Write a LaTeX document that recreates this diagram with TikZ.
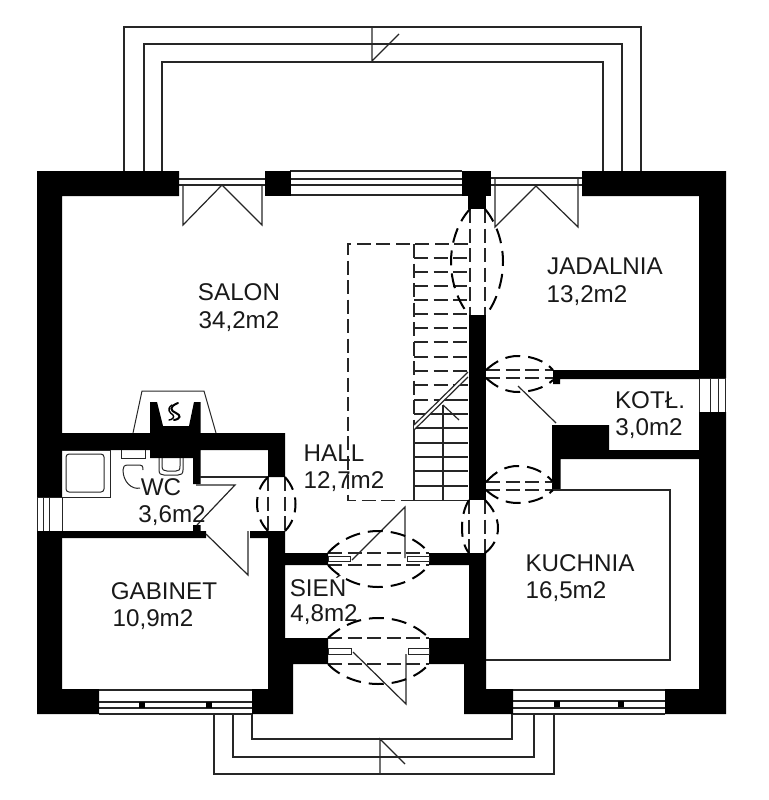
\documentclass[tikz,border=0pt]{standalone}
\usepackage{fontspec}
\setmainfont{Liberation Sans}
\tikzset{
  plan/.style={x=1pt,y=-1pt,line join=miter},
  wall/.style={fill=black,draw=none},
  thin line/.style={draw=black!85,line width=1.2pt},
  hidden/.style={draw=black!85,line width=1.1pt,dash pattern=on 14pt off 5.5pt},
  opening/.style={draw=black,line width=2pt,dash pattern=on 15pt off 8pt},
  fixture/.style={draw=black!85,line width=1pt},
  room/.style={font=\fontsize{24.2}{29}\selectfont,inner sep=0pt,anchor=center,text=black!90}
}
\begin{document}
\begin{tikzpicture}[plan]
\useasboundingbox (0,0) rectangle (768,800);
% balconies
\draw[thin line] (124,171) |- (641,27) -- (641,171);
\draw[thin line] (144,171) |- (622,44) -- (622,171);
\draw[thin line] (162,171) |- (603,62) -- (603,171);
\draw[thin line] (372,27) -- (372,61) -- (399,34);
\draw[thin line] (214,714) |- (554,774) -- (554,714);
\draw[thin line] (233,714) |- (534,757) -- (534,714);
\draw[thin line] (252,714) |- (512,739) -- (512,714);
\draw[thin line] (405,764) -- (380,739) -- (380,774);
% windows
\foreach \y in {171,179,185,195} \draw[thin line] (290,\y) -- (462,\y);
\foreach \y in {179,185} \draw[thin line] (179,\y) -- (265,\y);
\foreach \y in {178,185} \draw[thin line] (491,\y) -- (582,\y);
\foreach \y in {690,702,708,714} \draw[thin line] (99,\y) -- (252,\y);
\foreach \y in {690,701,708,714} \draw[thin line] (513,\y) -- (665,\y);
\foreach \x/\y in {142/702,209/702,557/701,621/701} \fill (\x-3,\y) rectangle (\x+3,\y+6);
\foreach \x in {43.5,49,62} \draw[fixture] (\x,497) -- (\x,531);
\foreach \x in {699,710,718,725} \draw[fixture] (\x,378) -- (\x,412);
\draw[fixture] (37,497) -- (62,497) (37,531) -- (62,531) (37,497) -- (37,531);
\draw[fixture] (699,378) -- (726,378) (699,412) -- (726,412);
% terrace doors
\draw[thin line] (183,185) -- (183,225) -- (222,185) -- (262,225) -- (262,185);
\draw[thin line] (495,178) -- (495,227) -- (536,186) -- (578,227) -- (578,178);
% stairs
\draw[hidden] (468,244) -- (348,244) -- (348,500.5) -- (414,500.5);
\draw[hidden] (414,244) -- (414,430);
\foreach \y in {258,272,286,300,314,328,342,357,371}
  \draw[hidden] (414,\y) -- (468,\y);
\foreach \y/\x in {385/457,400/442,414/428}{
  \draw[hidden] (414,\y) -- (\x,\y);
  \draw[thin line] (\x,\y) -- (468,\y);}
\foreach \y in {428,443,457,471,486,500.5}
  \draw[thin line] (414,\y) -- (468,\y);
\fill[white] (414,425) -- (468,372) -- (468,377) -- (414,430) -- cycle;
\draw[thin line] (414,430) -- (414,500.5);
\draw[thin line] (443,405) -- (443,500.5);
\draw[thin line] (443,405) -- (459,420);
\draw[thin line] (414,425) -- (468,372);
\draw[thin line] (414,430) -- (468,377);
% walls
\fill[wall] (37,171) -- (179,171) -- (179,196) -- (62,196) -- (62,497) -- (37,497) -- cycle;
\fill[wall] (37,531) -- (62,531) -- (62,689) -- (99,689) -- (99,714) -- (37,714) -- cycle;
\fill[wall] (265,171) rectangle (291,196);
\fill[wall] (462,171) rectangle (491,196);
\fill[wall] (468,195) rectangle (486,209);
\fill[wall] (469,315) rectangle (486,500);
\fill[wall] (582,171) -- (726,171) -- (726,378) -- (699,378) -- (699,196) -- (582,196) -- cycle;
\fill[wall] (699,412) -- (726,412) -- (726,714) -- (665,714) -- (665,689) -- (699,689) -- cycle;
\fill[wall] (553,370) -- (699,370) -- (699,379) -- (560,379) -- (560,384) -- (553,384) -- cycle;
\fill[wall] (552,425) -- (609,425) -- (609,450) -- (699,450) -- (699,459) -- (560.5,459) -- (560.5,490) -- (552,490) -- cycle;
\fill[wall] (469,553) -- (486,553) -- (486,689) -- (513,689) -- (513,714) -- (464,714) -- (464,664) -- (429,664) -- (429,638) -- (469,638) -- (469,565) -- (429,565) -- (429,553) -- cycle;
\fill[wall] (62,433) -- (285,433) -- (285,477) -- (268,477) -- (268,450) -- (200.5,450) -- (200.5,484) -- (193,484) -- (193,458) -- (150,458) -- (150,450) -- (62,450) -- cycle;
\fill[wall] (150,433) -- (150,402) -- (157,402) -- (163,426) -- (189,426) -- (194,402) -- (200.5,402) -- (200.5,433) -- cycle;
\fill[wall] (62,531) -- (193,531) -- (193,525) -- (200.5,525) -- (200.5,531) -- (206,531) -- (206,538) -- (62,538) -- cycle;
\fill[wall] (250,531) -- (285,531) -- (285,553) -- (328,553) -- (328,565) -- (285,565) -- (285,638) -- (328,638) -- (328,664) -- (293,664) -- (293,714) -- (252,714) -- (252,689) -- (268,689) -- (268,538) -- (250,538) -- cycle;
% fireplace
\draw[fixture] (133,433) -- (142,391) -- (204,391) -- (216,433);
\draw[line width=2pt,line cap=round] (178,403) .. controls (168,407) and (171,411) .. (176,413) .. controls (181,415) and (181,419) .. (174,420);
\draw[line width=1.4pt,line cap=round] (172,405) .. controls (166,409) and (170,413) .. (173,415) .. controls (175,417) and (172,420) .. (169,420);
% WC fixtures
\draw[fixture] (62,450) -- (110,450) -- (110,497) -- (62,497);
\draw[fixture,rounded corners=3pt] (66,454) rectangle (104,492);
\draw[fixture] (121,450) -- (121,458) -- (145,458) -- (145,450);
\draw[fixture] (143,470) .. controls (143,466) and (142,465) .. (140,465) -- (128,465) .. controls (124,465) and (123,467) .. (123,470) .. controls (123,482) and (132,490) .. (140,488);
\draw[fixture] (159,458) -- (159,470) .. controls (159,474) and (161,475) .. (164,475) -- (178,475) .. controls (181,475) and (183,474) .. (183,470) -- (183,458);
\draw[fixture] (162,458) -- (162,466) .. controls (162,470) and (164,471) .. (167,471) -- (176,471) .. controls (179,471) and (180,470) .. (180,466) -- (180,458);
% WC door
\draw[thin line] (200,477) -- (268,477);
\draw[thin line] (196,485) -- (235,485) -- (197,525);
\draw[thin line] (206,534) -- (248,575) -- (248,531);
% Sien doors
\foreach \xa/\xb in {328/350,407/429} \draw[fixture,fill=white] (\xa,556) rectangle (\xb,561);
\foreach \xa/\xb in {328/351,408/429} \draw[fixture,fill=white] (\xa,648) rectangle (\xb,654);
\draw[thin line] (352,560) -- (405,507) -- (405,558);
\draw[thin line] (353,652) -- (406,704) -- (406,654);
% KOTL door
\draw[thin line] (518,386) -- (556,423);
% kitchen counter
\draw[thin line] (486,660) -- (670,660) -- (670,490) -- (553,490);
% openings
\draw[hidden] (328,553) -- (429,553) (328,565) -- (429,565);
\draw[hidden] (328,638) -- (429,638) (328,664) -- (429,664);
\draw[hidden] (470,209) -- (470,315) (485,209) -- (485,315);
\draw[hidden] (486,370) -- (553,370) (486,378) -- (553,378);
\draw[hidden] (486,482) -- (553,482) (486,490) -- (553,490);
\draw[hidden] (469,500) -- (469,553) (485,500) -- (485,553);
\draw[hidden] (268,477) -- (268,531) (285,477) -- (285,531);
% jamb arcs of the openings
\draw[opening] (470,209) .. controls (458,222) and (451,242) .. (451,262) .. controls (451,282) and (458,302) .. (469,315);
\draw[opening] (485,209) .. controls (496,222) and (503,242) .. (503,262) .. controls (503,282) and (496,302) .. (486,315);
\draw[opening] (486,370) .. controls (496,361) and (506,356) .. (518,356) .. controls (532,356) and (545,361) .. (553,370);
\draw[opening] (486,378) .. controls (496,387) and (506,392) .. (518,392) .. controls (530,392) and (545,388) .. (553,380);
\draw[opening] (486,482) .. controls (496,471) and (506,466) .. (518,466) .. controls (532,466) and (545,472) .. (553,482);
\draw[opening] (486,490) .. controls (496,499) and (506,503) .. (518,503) .. controls (532,503) and (545,498) .. (553,490);
\draw[opening] (469,500) .. controls (464,508) and (462,518) .. (462,528) .. controls (462,538) and (464,547) .. (469,553);
\draw[opening] (485,500) .. controls (493,508) and (498,518) .. (498,528) .. controls (498,538) and (493,547) .. (485,553);
\draw[opening] (268,477) .. controls (260,485) and (257,494) .. (257,504) .. controls (257,514) and (261,524) .. (268,531);
\draw[opening] (285,477) .. controls (292,485) and (295.5,494) .. (295.5,504) .. controls (295.5,514) and (292,524) .. (285,531);
\draw[opening] (328,553) .. controls (340,539) and (360,531) .. (378,531) .. controls (398,531) and (418,539) .. (429,553);
\draw[opening] (328,565) .. controls (340,579) and (360,587) .. (378,587) .. controls (398,587) and (418,579) .. (429,565);
\draw[opening] (328,638) .. controls (342,625) and (360,618) .. (378,618) .. controls (398,618) and (416,625) .. (429,638);
\draw[opening] (328,664) .. controls (340,677) and (360,684) .. (378,684) .. controls (398,684) and (418,677) .. (429,664);
% labels
\node[room] (salon) at (239,292) {SALON};
\node[room] (salonm) at (239,322) {34,2m2};
\node[room] (jad) at (605,266) {JADALNIA};
\node[room] (jadm) at (587,296) {13,2m2};
\node[room] (kotl) at (650,400) {KOTŁ.};
\node[room] (kotlm) at (649,429) {3,0m2};
\node[room] (hall) at (334,453) {HALL};
\node[room] (hallm) at (344,482) {12,7m2};
\node[room] (wc) at (161,487) {WC};
\node[room] (wcm) at (172,516) {3,6m2};
\node[room] (kuch) at (580,563) {KUCHNIA};
\node[room] (kuchm) at (566,592) {16,5m2};
\node[room] (gab) at (164,591) {GABINET};
\node[room] (gabm) at (153,620) {10,9m2};
\node[room] (sien) at (318,586) {SIEŃ};
\node[room] (sienm) at (324,615) {4,8m2};
\end{tikzpicture}
\end{document}
